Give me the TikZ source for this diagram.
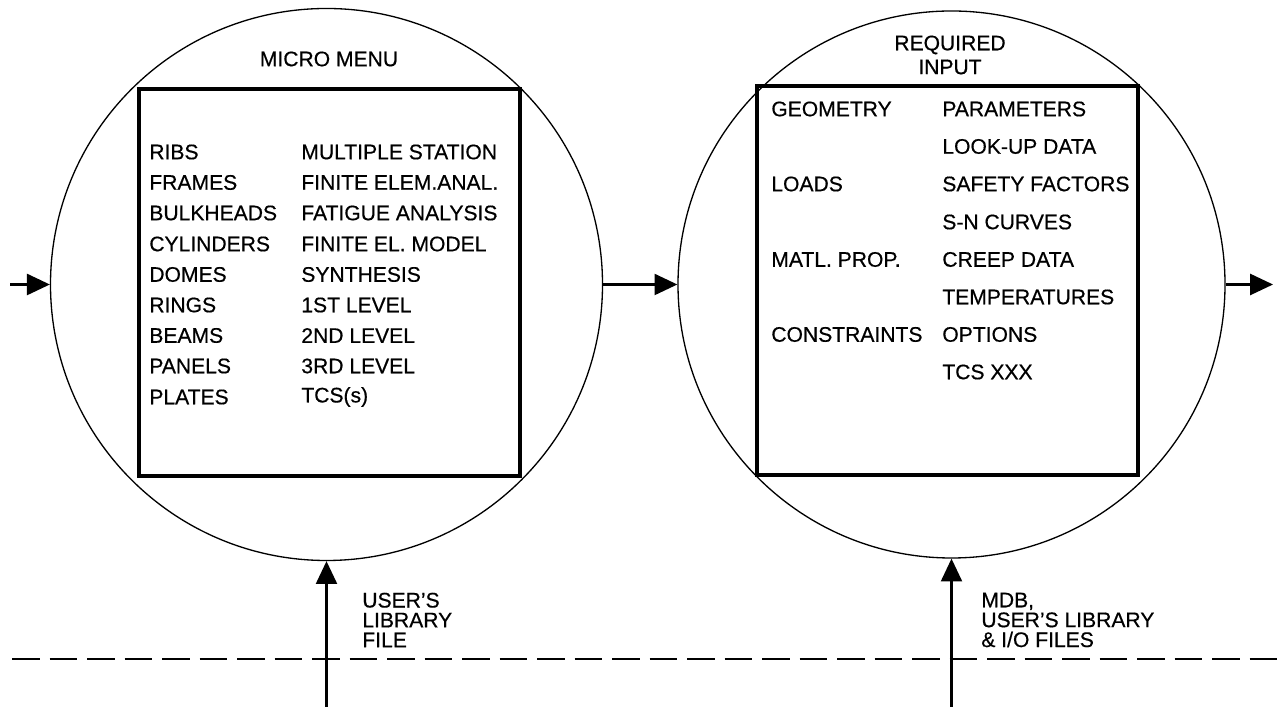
\documentclass[tikz,border=0pt]{standalone}
\usepackage{fontspec}
\setmainfont{Liberation Sans}[FakeBold=0.5]
\usetikzlibrary{arrows.meta}

\begin{document}
\begin{tikzpicture}[
    scale=1.0,
    menutext/.style={anchor=west, inner sep=0pt, font=\fontsize{12}{14}\selectfont},
    titletext/.style={align=center, inner sep=0pt, font=\fontsize{12}{13.6}\selectfont},
    filetext/.style={anchor=west, align=left, inner sep=0pt, font=\fontsize{12}{11.3}\selectfont},
    lens/.style={draw, circle, line width=0.75pt, inner sep=0pt},
    menubox/.style={draw, line width=1.9pt, inner sep=0pt, minimum width=7.62cm},
    flow/.style={line width=1.2pt, -{Triangle[length=13pt, width=12pt]}}
]

\useasboundingbox (0,0) rectangle (25.64,14.18);

\node[lens, minimum size=11.04cm] (lcirc) at ( 6.53, 8.49) {};
\node[lens, minimum size=10.94cm] (rcirc) at (19.03, 8.49) {};

\node[menubox, minimum height=7.74cm] (lbox) at ( 6.59, 8.53) {};
\node[menubox, minimum height=7.78cm] (rbox) at (18.95, 8.57) {};

\node[titletext] (mmenu) at ( 6.58, 13.00) {MICRO MENU};
\node[titletext] (reqin) at (19.00, 13.08) {REQUIRED\\INPUT};

\node[menutext] (ribs)   at ( 2.98, 11.14) {RIBS};
\node[menutext] (frames) at ( 2.98, 10.53) {FRAMES};
\node[menutext] (bulk)   at ( 2.98,  9.92) {BULKHEADS};
\node[menutext] (cyl)    at ( 2.98,  9.30) {CYLINDERS};
\node[menutext] (domes)  at ( 2.98,  8.69) {DOMES};
\node[menutext] (rings)  at ( 2.98,  8.08) {RINGS};
\node[menutext] (beams)  at ( 2.98,  7.47) {BEAMS};
\node[menutext] (panels) at ( 2.98,  6.86) {PANELS};
\node[menutext] (plates) at ( 2.98,  6.24) {PLATES};

\node[menutext] (multi)  at ( 6.02, 11.14) {MULTIPLE STATION};
\node[menutext] (feana)  at ( 6.02, 10.53) {FINITE ELEM.ANAL.};
\node[menutext] (fatig)  at ( 6.02,  9.92) {FATIGUE ANALYSIS};
\node[menutext] (femod)  at ( 6.02,  9.30) {FINITE EL. MODEL};
\node[menutext] (synth)  at ( 6.02,  8.69) {SYNTHESIS};
\node[menutext] (lvla)   at ( 6.02,  8.08) {1ST LEVEL};
\node[menutext] (lvlb)   at ( 6.02,  7.47) {2ND LEVEL};
\node[menutext] (lvlc)   at ( 6.02,  6.86) {3RD LEVEL};
\node[menutext] (tcss)   at ( 6.02,  6.24) {TCS(s)};

\node[menutext] (geom)   at (15.42, 12.00) {GEOMETRY};
\node[menutext] (loads)  at (15.42, 10.50) {LOADS};
\node[menutext] (matl)   at (15.42,  8.99) {MATL. PROP.};
\node[menutext] (constr) at (15.42,  7.49) {CONSTRAINTS};

\node[menutext] (params) at (18.84, 12.00) {PARAMETERS};
\node[menutext] (lookup) at (18.84, 11.25) {LOOK-UP DATA};
\node[menutext] (safety) at (18.84, 10.50) {SAFETY FACTORS};
\node[menutext] (sncurv) at (18.84,  9.74) {S-N CURVES};
\node[menutext] (creep)  at (18.84,  8.99) {CREEP DATA};
\node[menutext] (temps)  at (18.84,  8.24) {TEMPERATURES};
\node[menutext] (opts)   at (18.84,  7.49) {OPTIONS};
\node[menutext] (tcsx)   at (18.84,  6.74) {TCS XXX};

\coordinate (in1)   at ( 0.20, 8.49);
\coordinate (out1)  at (25.46, 8.49);
\coordinate (src1)  at ( 6.53, 0.04);
\coordinate (src2)  at (19.03, 0.04);
\coordinate (dash1) at ( 0.24, 1.00);
\coordinate (dash2) at (25.64, 1.00);

\draw[flow] (in1) -- (lcirc.west);
\draw[flow] (lcirc.east) -- (rcirc.west);
\draw[flow] (rcirc.east) -- (out1);
\draw[flow] (src1) -- (lcirc.south);
\draw[flow] (src2) -- (rcirc.south);

\draw[line width=1.1pt, dash pattern=on 0.55cm off 0.2cm] (dash1) -- (dash2);

\node[filetext] (ulib) at ( 7.24, 1.78) {USER'S\\LIBRARY\\FILE};
\node[filetext] (mdb)  at (19.62, 1.78) {MDB,\\USER'S LIBRARY\\\& I/O FILES};

\end{tikzpicture}
\end{document}
